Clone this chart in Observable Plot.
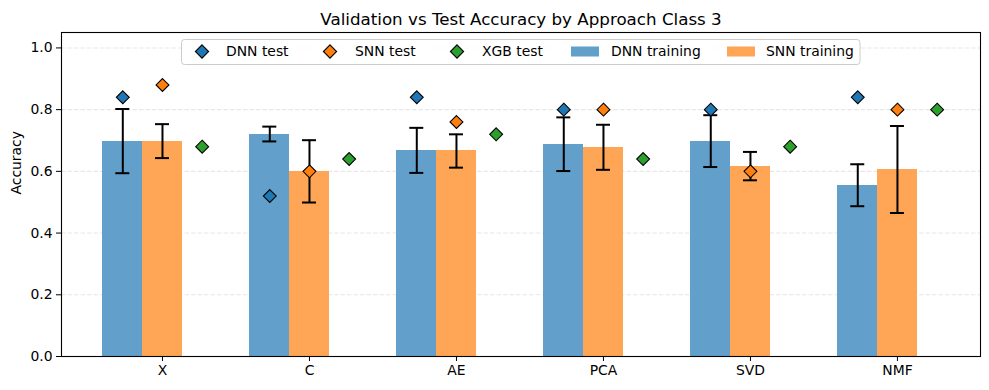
<!DOCTYPE html>
<html>
<head>
<meta charset="utf-8">
<script src="https://cdn.jsdelivr.net/npm/d3@7"></script>
<script src="https://cdn.jsdelivr.net/npm/@observablehq/plot@0.6"></script>
<style>
  body { margin: 0; background: #fff; }
  #chart { position: relative; width: 989px; height: 390px; }
</style>
</head>
<body>
<div id="chart"></div>
<script>
// ---- data ----
const categories = ["X", "C", "AE", "PCA", "SVD", "NMF"];
const dnnTrain    = [0.698, 0.721, 0.668, 0.688, 0.698, 0.555];
const dnnTrainErr = [0.104, 0.024, 0.073, 0.087, 0.084, 0.068];
const snnTrain    = [0.698, 0.600, 0.666, 0.678, 0.617, 0.606];
const snnTrainErr = [0.055, 0.101, 0.054, 0.073, 0.046, 0.141];
const dnnTest = [0.84, 0.52, 0.84, 0.80, 0.80, 0.84];
const snnTest = [0.88, 0.60, 0.76, 0.80, 0.60, 0.80];
const xgbTest = [0.68, 0.64, 0.72, 0.64, 0.68, 0.80];
const yTicks = [0.0, 0.2, 0.4, 0.6, 0.8, 1.0];
const title = "Validation vs Test Accuracy by Approach Class 3";
const yLabel = "Accuracy";
const legendItems = [
  {label: "DNN test", kind: "marker", color: "#1f77b4"},
  {label: "SNN test", kind: "marker", color: "#ff7f0e"},
  {label: "XGB test", kind: "marker", color: "#2ca02c"},
  {label: "DNN training", kind: "patch", color: "#1f77b4"},
  {label: "SNN training", kind: "patch", color: "#ff7f0e"}
];

// ---- layout constants ----
const W = 0.27;          // bar width (in category units)
const FONT = "DejaVu Sans";
const dnnBarColor = "#62a0cb";
const snnBarColor = "#ffa556";

// ---- tables built from arrays ----
const idx = categories.map((_, i) => i);
const bars = [
  ...idx.map(i => ({pos: i - W, v: dnnTrain[i], e: dnnTrainErr[i], c: dnnBarColor})),
  ...idx.map(i => ({pos: i, v: snnTrain[i], e: snnTrainErr[i], c: snnBarColor}))
];
const tests = [
  ...idx.map(i => ({pos: i - W, v: dnnTest[i], c: "#1f77b4"})),
  ...idx.map(i => ({pos: i, v: snnTest[i], c: "#ff7f0e"})),
  ...idx.map(i => ({pos: i + W, v: xgbTest[i], c: "#2ca02c"}))
];
const caps = bars.flatMap(d => [{pos: d.pos, y: d.v - d.e}, {pos: d.pos, y: d.v + d.e}]);

const plot = Plot.plot({
  width: 989,
  height: 390,
  marginLeft: 61,
  marginRight: 9,
  marginTop: 32,
  marginBottom: 34,
  style: {fontFamily: FONT, fontSize: "13.9px", color: "#000", background: "#fff"},
  x: {
    type: "linear",
    domain: [-0.687, 5.565],
    ticks: idx,
    tickFormat: i => categories[i],
    tickSize: 5,
    tickPadding: 4,
    label: null
  },
  y: {
    domain: [0, 1.05],
    ticks: yTicks,
    tickFormat: d3.format(".1f"),
    tickSize: 5,
    tickPadding: 4,
    label: null
  },
  marks: [
    Plot.ruleY(yTicks, {stroke: "#b0b0b0", strokeOpacity: 0.3, strokeWidth: 1.1, strokeDasharray: "4.5,2"}),
    Plot.rectY(bars, {x1: d => d.pos - W / 2, x2: d => d.pos + W / 2, y1: 0, y2: "v", fill: "c", shapeRendering: "crispEdges"}),
    Plot.ruleX(bars, {x: "pos", y1: d => d.v - d.e, y2: d => d.v + d.e, stroke: "#000", strokeWidth: 2}),
    Plot.ruleY(caps, {y: "y", x1: "pos", x2: "pos", insetLeft: -7, insetRight: -7, stroke: "#000", strokeWidth: 2}),
    Plot.dot(tests, {x: "pos", y: "v", symbol: "diamond2", r: 5.8, fill: "c", stroke: "#000", strokeWidth: 1.1}),
    Plot.frame({stroke: "#000", strokeWidth: 1.1}),
    Plot.text([title], {frameAnchor: "top", dy: -8, lineAnchor: "bottom", fontSize: 16.7, fill: "#000"}),
    Plot.text([yLabel], {frameAnchor: "left", dx: -45, rotate: -90, fontSize: 13.9, fill: "#000"})
  ]
});
document.getElementById("chart").appendChild(plot);

// ---- legend (drawn into the svg) ----
const svg = d3.select(plot.tagName.toLowerCase() === "svg" ? plot : plot.querySelector("svg"));
const lg = svg.append("g").attr("font-family", FONT).attr("font-size", 13.9).attr("text-anchor", "start");
lg.append("rect")
  .attr("x", 181.5).attr("y", 39.5).attr("width", 678.5).attr("height", 25)
  .attr("rx", 3).attr("fill", "#fff").attr("fill-opacity", 0.8)
  .attr("stroke", "#cccccc").attr("stroke-width", 1);
const itemX = [202, 330, 457, 585, 741];
const textX = [226, 355, 482, 611, 766];
const cy = 51.5;
legendItems.forEach((it, k) => {
  if (it.kind === "marker") {
    const r = 6.6;
    lg.append("path")
      .attr("d", `M${itemX[k]},${cy - r}L${itemX[k] + r},${cy}L${itemX[k]},${cy + r}L${itemX[k] - r},${cy}Z`)
      .attr("fill", it.color).attr("stroke", "#000").attr("stroke-width", 1.1);
  } else {
    lg.append("rect")
      .attr("x", itemX[k] - 14).attr("y", cy - 5).attr("width", 28).attr("height", 10)
      .attr("fill", it.color).attr("fill-opacity", 0.7);
  }
  lg.append("text").attr("x", textX[k]).attr("y", cy).attr("dy", "0.35em")
    .attr("text-anchor", "start").attr("fill", "#000").text(it.label);
});
</script>
</body>
</html>
